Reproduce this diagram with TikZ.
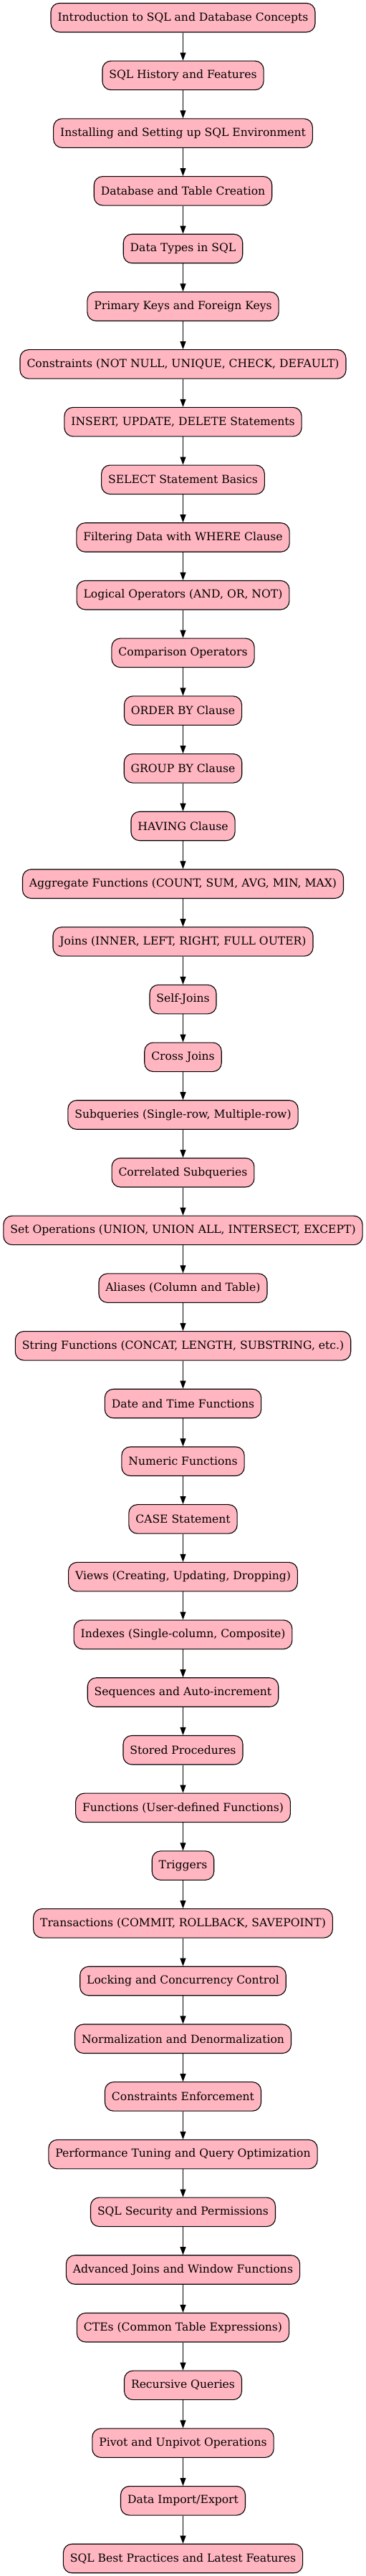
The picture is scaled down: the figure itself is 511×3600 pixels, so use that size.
\documentclass[tikz,border=0pt]{standalone}
\usepackage{fontspec}
\setmainfont{DejaVu Serif}
\usetikzlibrary{arrows.meta}

\tikzset{
  topic/.style={draw=black, line width=1.1pt, fill={rgb,255:red,255; green,182; blue,193}, rounded corners=12pt, minimum height=40.5pt, inner xsep=9.5pt, inner ysep=0pt, font=\fontsize{15.6}{18}\selectfont},
  link/.style={draw=black, line width=1.1pt, -{Triangle[length=11pt,width=8pt]}}
}

\begin{document}
\begin{tikzpicture}[x=1pt,y=1pt,yscale=-1,xscale=1]
\useasboundingbox (0,0) rectangle (511,3600);

% Text Nodes
\node [topic] (intro) at (255.5,24.7) {Introduction to SQL and Database Concepts};
\node [topic] (history) at (255.5,105.4) {SQL History and Features};
\node [topic] (install) at (255.5,186.1) {Installing and Setting up SQL Environment};
\node [topic] (create) at (255.5,266.8) {Database and Table Creation};
\node [topic] (types) at (255.5,347.5) {Data Types in SQL};
\node [topic] (keys) at (255.5,428.2) {Primary Keys and Foreign Keys};
\node [topic] (constr) at (255.5,508.9) {Constraints (NOT NULL, UNIQUE, CHECK, DEFAULT)};
\node [topic] (dml) at (255.5,589.6) {INSERT, UPDATE, DELETE Statements};
\node [topic] (select) at (255.5,670.3) {SELECT Statement Basics};
\node [topic] (where) at (255.5,751.0) {Filtering Data with WHERE Clause};
\node [topic] (logic) at (255.5,831.7) {Logical Operators (AND, OR, NOT)};
\node [topic] (compare) at (255.5,912.4) {Comparison Operators};
\node [topic] (order) at (255.5,993.1) {ORDER BY Clause};
\node [topic] (group) at (255.5,1073.8) {GROUP BY Clause};
\node [topic] (having) at (255.5,1154.5) {HAVING Clause};
\node [topic] (aggr) at (255.5,1235.2) {Aggregate Functions (COUNT, SUM, AVG, MIN, MAX)};
\node [topic] (joins) at (255.5,1315.9) {Joins (INNER, LEFT, RIGHT, FULL OUTER)};
\node [topic] (selfj) at (255.5,1396.6) {Self-Joins};
\node [topic] (crossj) at (255.5,1477.3) {Cross Joins};
\node [topic] (subq) at (255.5,1558.0) {Subqueries (Single-row, Multiple-row)};
\node [topic] (corr) at (255.5,1638.7) {Correlated Subqueries};
\node [topic] (setops) at (255.5,1719.4) {Set Operations (UNION, UNION ALL, INTERSECT, EXCEPT)};
\node [topic] (alias) at (255.5,1800.1) {Aliases (Column and Table)};
\node [topic] (strf) at (255.5,1880.8) {String Functions (CONCAT, LENGTH, SUBSTRING, etc.)};
\node [topic] (datef) at (255.5,1961.5) {Date and Time Functions};
\node [topic] (numf) at (255.5,2042.2) {Numeric Functions};
\node [topic] (case) at (255.5,2122.9) {CASE Statement};
\node [topic] (views) at (255.5,2203.6) {Views (Creating, Updating, Dropping)};
\node [topic] (index) at (255.5,2284.3) {Indexes (Single-column, Composite)};
\node [topic] (seq) at (255.5,2365.0) {Sequences and Auto-increment};
\node [topic] (proc) at (255.5,2445.7) {Stored Procedures};
\node [topic] (udf) at (255.5,2526.4) {Functions (User-defined Functions)};
\node [topic] (trig) at (255.5,2607.1) {Triggers};
\node [topic] (trans) at (255.5,2687.8) {Transactions (COMMIT, ROLLBACK, SAVEPOINT)};
\node [topic] (lock) at (255.5,2768.5) {Locking and Concurrency Control};
\node [topic] (norm) at (255.5,2849.2) {Normalization and Denormalization};
\node [topic] (enforce) at (255.5,2929.9) {Constraints Enforcement};
\node [topic] (perf) at (255.5,3010.6) {Performance Tuning and Query Optimization};
\node [topic] (secur) at (255.5,3091.3) {SQL Security and Permissions};
\node [topic] (window) at (255.5,3172.0) {Advanced Joins and Window Functions};
\node [topic] (cte) at (255.5,3252.7) {CTEs (Common Table Expressions)};
\node [topic] (recur) at (255.5,3333.4) {Recursive Queries};
\node [topic] (pivot) at (255.5,3414.1) {Pivot and Unpivot Operations};
\node [topic] (impex) at (255.5,3494.8) {Data Import/Export};
\node [topic] (best) at (255.5,3575.5) {SQL Best Practices and Latest Features};

% Straight Lines
\draw [link] (intro) -- (history);
\draw [link] (history) -- (install);
\draw [link] (install) -- (create);
\draw [link] (create) -- (types);
\draw [link] (types) -- (keys);
\draw [link] (keys) -- (constr);
\draw [link] (constr) -- (dml);
\draw [link] (dml) -- (select);
\draw [link] (select) -- (where);
\draw [link] (where) -- (logic);
\draw [link] (logic) -- (compare);
\draw [link] (compare) -- (order);
\draw [link] (order) -- (group);
\draw [link] (group) -- (having);
\draw [link] (having) -- (aggr);
\draw [link] (aggr) -- (joins);
\draw [link] (joins) -- (selfj);
\draw [link] (selfj) -- (crossj);
\draw [link] (crossj) -- (subq);
\draw [link] (subq) -- (corr);
\draw [link] (corr) -- (setops);
\draw [link] (setops) -- (alias);
\draw [link] (alias) -- (strf);
\draw [link] (strf) -- (datef);
\draw [link] (datef) -- (numf);
\draw [link] (numf) -- (case);
\draw [link] (case) -- (views);
\draw [link] (views) -- (index);
\draw [link] (index) -- (seq);
\draw [link] (seq) -- (proc);
\draw [link] (proc) -- (udf);
\draw [link] (udf) -- (trig);
\draw [link] (trig) -- (trans);
\draw [link] (trans) -- (lock);
\draw [link] (lock) -- (norm);
\draw [link] (norm) -- (enforce);
\draw [link] (enforce) -- (perf);
\draw [link] (perf) -- (secur);
\draw [link] (secur) -- (window);
\draw [link] (window) -- (cte);
\draw [link] (cte) -- (recur);
\draw [link] (recur) -- (pivot);
\draw [link] (pivot) -- (impex);
\draw [link] (impex) -- (best);

\end{tikzpicture}
\end{document}
